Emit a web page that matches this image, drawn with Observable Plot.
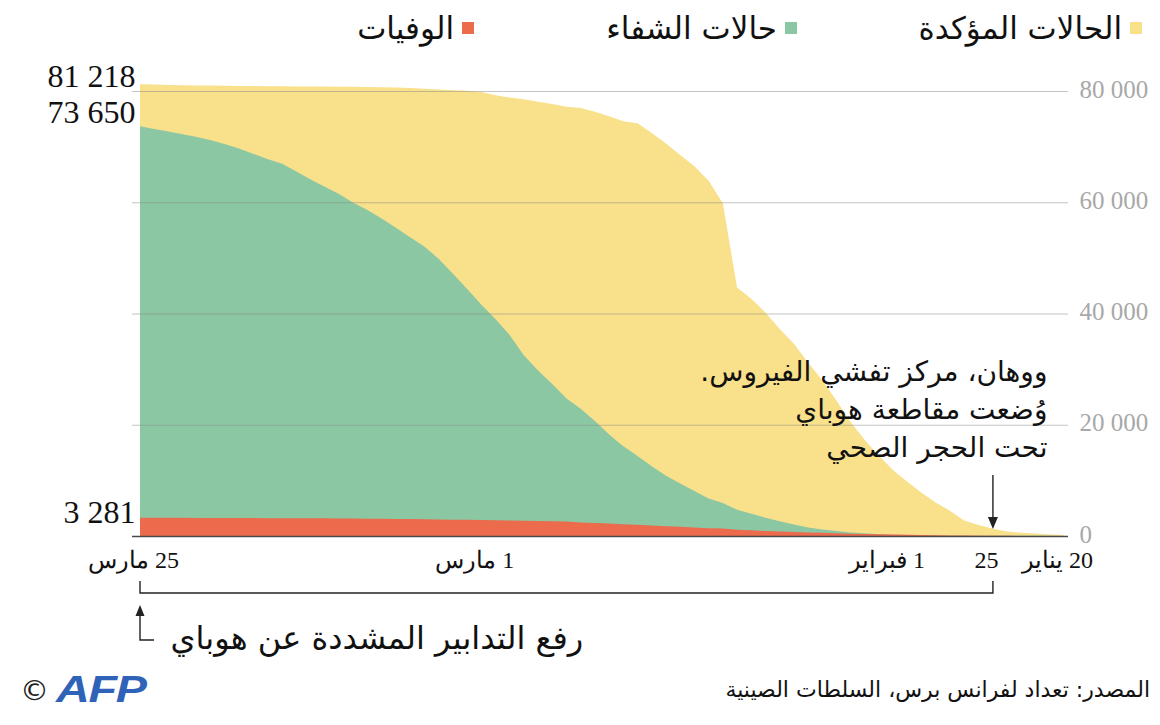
<!DOCTYPE html>
<html><head><meta charset="utf-8">
<script src="https://cdn.jsdelivr.net/npm/d3@7"></script>
<script src="https://cdn.jsdelivr.net/npm/@observablehq/plot@0.6"></script>
<style>
html,body{margin:0;padding:0;background:#fff;}
#wrap{width:1160px;height:725px;position:relative;overflow:hidden;background:#fff;}
#legend{position:relative;height:60px;}
.item{position:absolute;top:8px;height:40px;display:flex;align-items:center;direction:rtl;font-family:"DejaVu Sans",sans-serif;font-size:31px;line-height:40px;color:#111;white-space:nowrap;}
.sw{width:12px;height:12px;margin-left:8px;flex:none;}
#chart svg{display:block;}
#footer{position:relative;height:60px;}
#source{position:absolute;right:10px;top:12px;direction:rtl;font-family:"DejaVu Sans",sans-serif;font-size:22px;line-height:26px;color:#111;white-space:nowrap;}
#afp{position:absolute;left:20px;top:8px;height:34px;display:flex;align-items:center;white-space:nowrap;}
#afp .c{font-family:"DejaVu Sans",sans-serif;font-size:29px;color:#222;margin-right:7px;}
#afp .l{font-family:"Liberation Sans",Arial,sans-serif;font-weight:900;font-style:italic;font-size:36px;color:#2f63b8;display:inline-block;transform:scaleX(1.3);transform-origin:left center;letter-spacing:-1px;}
</style></head>
<body>
<div id="wrap">
  <div id="legend"></div>
  <div id="chart"></div>
  <div id="footer">
    <div id="afp"><span class="c">©</span><span class="l">AFP</span></div>
    <div id="source"></div>
  </div>
</div>
<script>
// ---------- data ----------
const startDate = "2020-01-20";
const confirmed = [198, 291, 440, 571, 830, 1287, 1975, 2744, 4515, 5974, 7711, 9692, 11791, 14380, 17205, 20438, 24324, 28018, 31161, 34546, 37198, 40171, 42638, 44653, 59804, 63851, 66492, 68500, 70548, 72436, 74185, 74576, 75465, 76288, 76936, 77150, 77658, 78064, 78497, 78824, 79251, 79824, 80026, 80151, 80270, 80409, 80552, 80651, 80695, 80735, 80754, 80778, 80793, 80813, 80824, 80844, 80860, 80881, 80894, 80928, 80967, 80996, 81054, 81093, 81171, 81218];
const recovered = [17, 25, 25, 28, 34, 38, 49, 51, 60, 103, 124, 171, 243, 328, 475, 632, 892, 1153, 1540, 2050, 2649, 3281, 3996, 4740, 5911, 6723, 8096, 9419, 10844, 12552, 14376, 16155, 18264, 20659, 22888, 24734, 27323, 29745, 32495, 36117, 39002, 41625, 44462, 47204, 49856, 52045, 53726, 55404, 57065, 58600, 59897, 61475, 62793, 64111, 65541, 66911, 67749, 68679, 69601, 70420, 71150, 71740, 72244, 72703, 73159, 73650];
const deaths = [3, 6, 9, 17, 25, 41, 56, 80, 106, 132, 170, 213, 259, 304, 361, 425, 490, 563, 636, 722, 811, 908, 1016, 1113, 1367, 1380, 1523, 1665, 1770, 1868, 2004, 2118, 2236, 2345, 2442, 2592, 2663, 2715, 2744, 2788, 2835, 2870, 2912, 2943, 2981, 3012, 3042, 3070, 3097, 3119, 3136, 3158, 3169, 3176, 3189, 3199, 3213, 3226, 3237, 3245, 3248, 3255, 3261, 3270, 3277, 3281];
const seriesNames = ["الحالات المؤكدة", "حالات الشفاء", "الوفيات"];
const seriesColors = ["#f9e08b", "#8bc7a3", "#ec6b4d"];
const yTicks = [0, 20000, 40000, 60000, 80000];
const xTickDates = ["2020-03-25", "2020-03-01", "2020-02-01", "2020-01-25", "2020-01-20"];
const xTickLabels = ["25 مارس", "1 مارس", "1 فبراير", "25", "20 يناير"];
const lockdownDate = "2020-01-25";
const annotationLines = ["ووهان، مركز تفشي الفيروس.", "وُضعت مقاطعة هوباي", "تحت الحجر الصحي"];
const liftText = "رفع التدابير المشددة عن هوباي";
const sourceText = "المصدر: تعداد لفرانس برس، السلطات الصينية";

// ---------- build ----------
const dates = confirmed.map((_, i) => d3.utcDay.offset(new Date(startDate), i));
const table = dates.map((d, i) => ({date: d, confirmed: confirmed[i], recovered: recovered[i], deaths: deaths[i]}));
const series = [confirmed, recovered, deaths];
const keys = ["confirmed", "recovered", "deaths"];
const firstDate = dates[0], endDate = dates[dates.length - 1];
const lock = new Date(lockdownDate);
const fmt = v => d3.format(",")(v).replace(/,/g, " ");
const rtl = s => "\u202B" + s + "\u202C";

// legend
const legendRights = [18, 363, 686];
const legend = d3.select("#legend");
seriesNames.forEach((n, i) => {
  const it = legend.append("div").attr("class", "item").style("right", legendRights[i] + "px");
  it.append("div").attr("class", "sw").style("background", seriesColors[i]);
  it.append("span").text(n);
});
d3.select("#source").text(sourceText);

const serif = "'Liberation Serif', 'DejaVu Serif', serif";

function annotations(index, scales, values, dims) {
  const base = dims.height - dims.marginBottom;
  const xe = scales.x(endDate), xl = scales.x(lock);
  const g = d3.create("svg:g").attr("fill", "none").attr("stroke", "#222").attr("stroke-width", 1.4);
  // lockdown arrow
  g.append("line").attr("x1", xl).attr("x2", xl).attr("y1", base - 61).attr("y2", base - 16);
  g.append("path").attr("d", `M${xl - 5},${base - 19}L${xl + 5},${base - 19}L${xl},${base - 7}Z`).attr("fill", "#222").attr("stroke", "none");
  // bracket under the axis
  g.append("path").attr("d", `M${xe},${base + 45}V${base + 57}H${xl}V${base + 45}`);
  // lift arrow
  g.append("path").attr("d", `M${xe + 14},${base + 104}H${xe}V${base + 78}`);
  g.append("path").attr("d", `M${xe - 4.5},${base + 80}L${xe + 4.5},${base + 80}L${xe},${base + 69}Z`).attr("fill", "#222").attr("stroke", "none");
  return g.node();
}

const lasts = series.map(s => s[s.length - 1]);
const lastDy = [-8, -14, -5];

const marks = [
  ...keys.map((k, i) => Plot.areaY(table, {x: "date", y: k, fill: seriesColors[i], curve: "linear"})),
  Plot.ruleY(yTicks.filter(d => d > 0), {stroke: "#8a8a8a", strokeOpacity: 0.5, strokeWidth: 1, insetLeft: -8, insetRight: -4}),
  Plot.ruleY([0], {stroke: "#4a4a4a", strokeWidth: 1.6, insetLeft: -8, insetRight: -4}),
  Plot.text(yTicks, {x: () => firstDate, y: d => d, text: fmt, textAnchor: "start", dx: 15, dy: -2, fill: "#a8a8a8", fontSize: 25, fontFamily: serif}),
  ...lasts.map((v, i) => Plot.text([v], {x: () => endDate, y: d => d, text: fmt, textAnchor: "end", dx: -5, dy: lastDy[i], fill: "#111", fontSize: 32, fontFamily: serif})),
  Plot.text(xTickDates, {x: d => new Date(d), y: () => 0, text: (d, i) => rtl(xTickLabels[i]), dx: -7, dy: 24, fontSize: 24, fill: "#111", fontFamily: serif}),
  Plot.text([annotationLines.map(rtl).join("\n")], {x: () => lock, y: () => 0, textAnchor: "end", dx: 54, dy: -130, lineAnchor: "middle", lineHeight: 1.36, fontSize: 28, fill: "#111", fontFamily: "'DejaVu Sans', sans-serif"}),
  Plot.text([rtl(liftText)], {x: () => endDate, y: () => 0, textAnchor: "start", dx: 30, dy: 102, fontSize: 32, fill: "#111", fontFamily: "'DejaVu Sans', sans-serif"}),
  annotations
];

const chart = Plot.plot({
  width: 1160,
  height: 605,
  marginLeft: 140,
  marginRight: 96,
  marginTop: 31,
  marginBottom: 129,
  style: {background: "#fff", overflow: "visible", fontFamily: serif},
  x: {type: "utc", domain: [endDate, firstDate], axis: null},
  y: {domain: [0, 80000], axis: null},
  marks
});
document.getElementById("chart").appendChild(chart);
</script>
</body></html>
